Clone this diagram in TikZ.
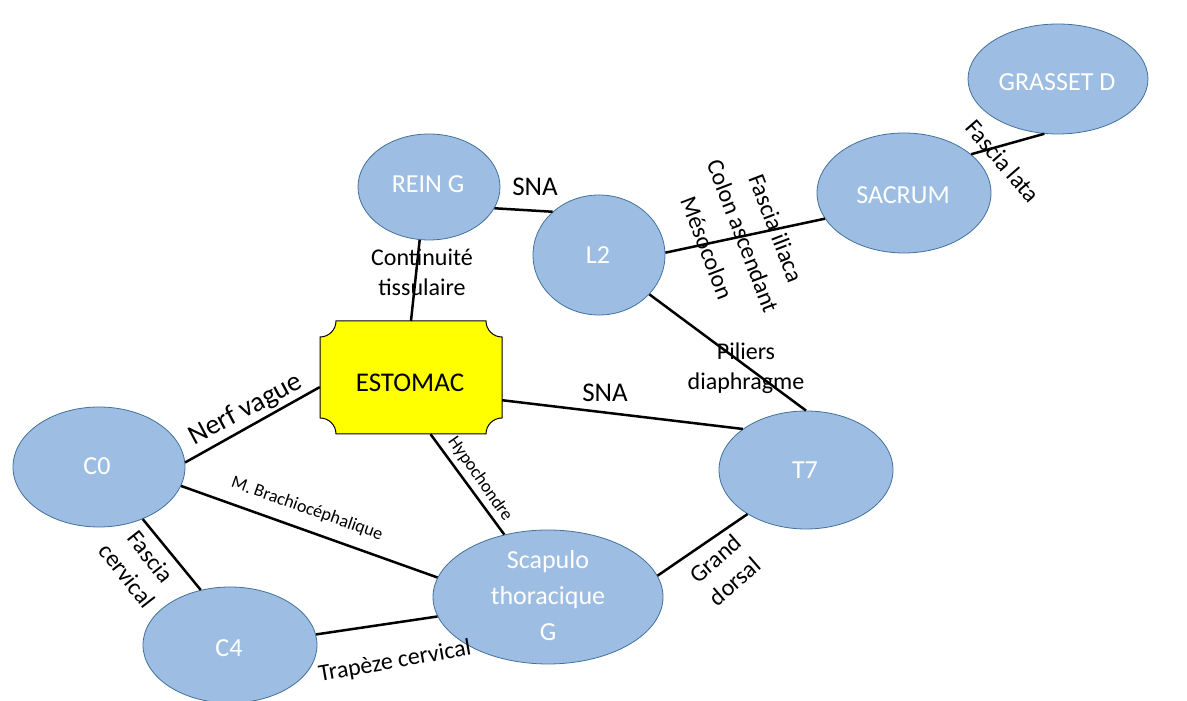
\documentclass[tikz,border=0pt]{standalone}
\usepackage{fontspec}
\setmainfont{Carlito}
\usetikzlibrary{shapes.geometric,calc}
\definecolor{nodefill}{RGB}{157,190,226}
\definecolor{nodeline}{RGB}{65,113,156}
\definecolor{estyellow}{RGB}{255,255,0}
\begin{document}
\begin{tikzpicture}[x=1pt,y=1pt,
  ell/.style={ellipse, fill=nodefill, draw=nodeline, line width=0.8pt, inner sep=0pt},
  ntext/.style={text=white, font=\fontsize{26}{36}\selectfont, align=center, inner sep=0pt},
  link/.style={line width=2.5pt, black},
  lab/.style={font=\fontsize{24}{30}\selectfont, align=center, inner sep=0pt},
  biglab/.style={font=\fontsize{27}{32}\selectfont, inner sep=0pt},
  smalllab/.style={font=\fontsize{18}{22}\selectfont, inner sep=0pt}]
\useasboundingbox (0,0) rectangle (1187,701);

% ellipses
\node[ell, minimum width=180pt, minimum height=110pt] (grasset) at (1058,622) {};
\node[ell, minimum width=174pt, minimum height=120pt] (sacrum) at (904,508) {};
\node[ell, minimum width=142pt, minimum height=106pt] (reing) at (429,514) {};
\node[ell, minimum width=132pt, minimum height=120pt] (l2) at (599,446) {};
\node[ell, minimum width=172pt, minimum height=120pt] (c0) at (99,234) {};
\node[ell, minimum width=174pt, minimum height=118pt] (t7) at (806,231) {};
\node[ell, minimum width=230pt, minimum height=134pt] (scap) at (548,104) {};
\node[ell, minimum width=174pt, minimum height=116pt] (c4) at (230,56) {};

% estomac
\node[inner sep=0pt, minimum width=182pt, minimum height=113pt] (estomac) at (411,323.5) {};
\draw[fill=estyellow, line width=1pt]
  (336,380) -- (486,380) arc[start angle=180, end angle=270, radius=16pt]
  -- (502,283) arc[start angle=90, end angle=180, radius=16pt]
  -- (336,267) arc[start angle=0, end angle=90, radius=16pt]
  -- (320,364) arc[start angle=270, end angle=360, radius=16pt] -- cycle;

% node texts
\node[ntext] (tgrasset) at (1057,619) {GRASSET D};
\node[ntext] (tsacrum) at (903,506) {SACRUM};
\node[ntext] (treing) at (428,517) {REIN G};
\node[ntext] (tl2) at (598,446) {L2};
\node[ntext] (tc0) at (97,235) {C0};
\node[ntext] (tt7) at (805,231) {T7};
\node[ntext] (tc4) at (229,53) {C4};
\node[ntext] (tscap) at (548,105) {Scapulo\\thoracique\\G};
\node[font=\fontsize{27}{32}\selectfont, inner sep=0pt] (testomac) at (410,318) {ESTOMAC};

% connectors
\draw[link] (grasset.256) -- (sacrum.30);
\draw[link] (sacrum.198) -- (l2.2);
\draw[link] (reing.342) -- (l2.137);
\draw[link] (reing.260) -- (estomac.north);
\draw[link] (l2.322) -- (t7.90);
\draw[link] (estomac.-14) -- (t7.147);
\draw[link] (estomac.186.5) -- (c0.3);
\draw[link] (estomac.-71) -- (scap.125);
\draw[link] (c0.-13) -- (scap.170);
\draw[link] (c0.-50) -- (c4.118);
\draw[link] (c4.7) -- (scap.190);
\draw[link] (t7.217) -- (scap.11);

% labels
\node[biglab] (lsna1) at (535,514) {SNA};
\node[lab] (lcont) at (422,429) {Continuité\\tissulaire};
\node[lab, rotate=-69] (liliaca) at (776,473) {Fascia iliaca};
\node[lab, rotate=-69] (lcolon) at (743,465) {Colon ascendant};
\node[lab, rotate=-69] (lmeso) at (707,453) {Mésocolon};
\node[lab, rotate=-49] (llata) at (1003,540) {Fascia lata};
\node[lab] (lpiliers) at (746,333) {Piliers\\diaphragme};
\node[biglab] (lsna2) at (605,308) {SNA};
\node[font=\fontsize{28}{32}\selectfont, inner sep=0pt, rotate=28] (lnerf) at (246,291) {Nerf vague};
\node[smalllab, rotate=-19.5] (lbrach) at (307,192) {M. Brachiocéphalique};
\node[smalllab, rotate=-55] (lhypo) at (480,222) {Hypochondre};
\node[lab, rotate=-52] (lfcerv) at (139,135) {Fascia\\cervical};
\node[lab, rotate=41] (lgrand) at (725,131) {Grand\\dorsal};
\node[lab, rotate=10] (ltrap) at (395,39) {Trapèze cervical};
\end{tikzpicture}
\end{document}
